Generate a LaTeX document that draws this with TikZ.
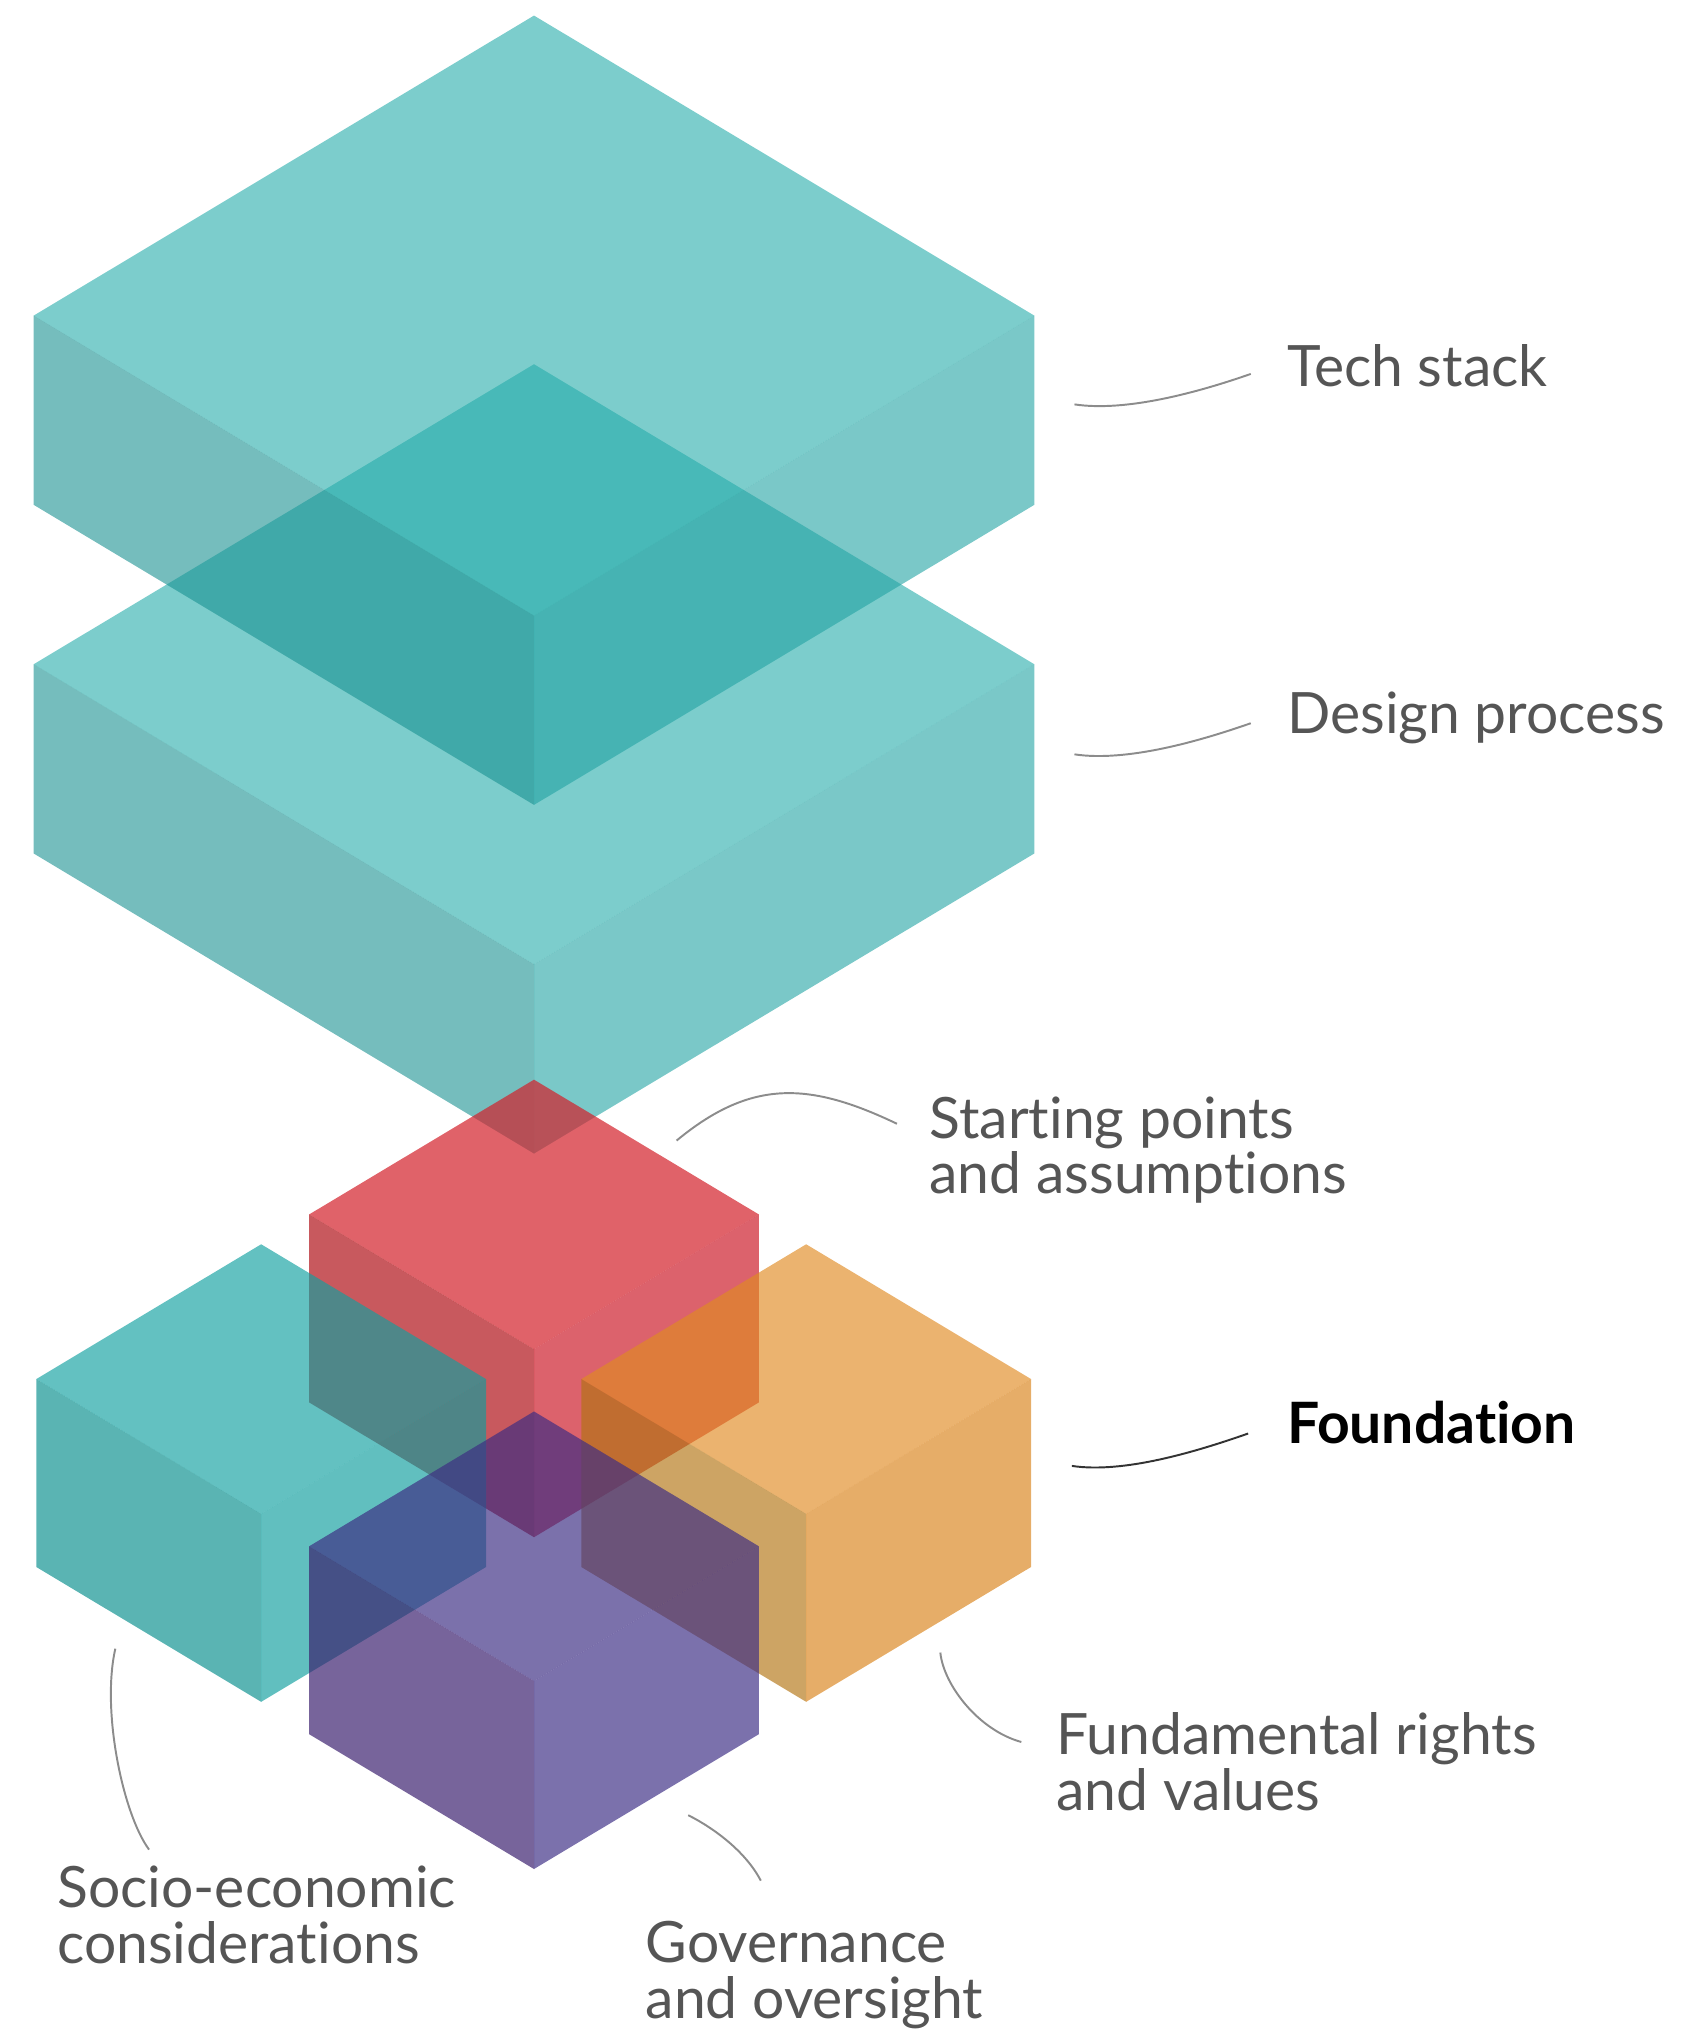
\documentclass[tikz,border=0pt]{standalone}
\usepackage{fontspec}
\setmainfont{Lato}[Ligatures=NoCommon]

\definecolor{slabT}{RGB}{37,172,170}
\definecolor{slabL}{RGB}{25,145,145}
\definecolor{slabR}{RGB}{33,163,163}
\definecolor{redT}{RGB}{211,32,42}
\definecolor{redL}{RGB}{176,19,25}
\definecolor{redR}{RGB}{205,31,45}
\definecolor{tealT}{RGB}{15,160,160}
\definecolor{tealL}{RGB}{1,140,139}
\definecolor{tealR}{RGB}{13,157,157}
\definecolor{orangeT}{RGB}{224,138,34}
\definecolor{orangeL}{RGB}{178,115,17}
\definecolor{orangeR}{RGB}{217,129,23}
\definecolor{purpleT}{RGB}{61,45,131}
\definecolor{purpleL}{RGB}{55,27,108}
\definecolor{purpleR}{RGB}{61,45,133}
\definecolor{labelgrey}{RGB}{85,85,85}
\definecolor{leadgrey}{RGB}{140,140,140}

\begin{document}
\begin{tikzpicture}
    [x=1pt,y=-1pt,
     lbl/.style={inner sep=0pt, anchor=base west, align=left, text=labelgrey, font=\fontsize{44}{43}\selectfont},
     lead/.style={draw=leadgrey, line width=1.5pt}]
  \useasboundingbox (0,0) rectangle (1300,1567);

  % blocks: top corner x/y, half width, half height, depth, colour, opacity
  \foreach \x/\y/\a/\b/\h/\c/\o in {412/281/386/231.5/146/slab/0.6, 412/12/386/231.5/146/slab/0.6,
      412/833/173.5/104/145/red/0.7, 201.5/960/173.5/104/145/teal/0.65,
      622/960/173.5/104/145/orange/0.65, 412/1089/173.5/104/145/purple/0.68}
  {
    \fill[fill=\c T, fill opacity=\o] (\x,\y) -- ({\x+\a},{\y+\b}) -- (\x,{\y+2*\b}) -- ({\x-\a},{\y+\b}) -- cycle;
    \fill[fill=\c L, fill opacity=\o] ({\x-\a},{\y+\b}) -- (\x,{\y+2*\b}) -- (\x,{\y+2*\b+\h}) -- ({\x-\a},{\y+\b+\h}) -- cycle;
    \fill[fill=\c R, fill opacity=\o] (\x,{\y+2*\b}) -- ({\x+\a},{\y+\b}) -- ({\x+\a},{\y+\b+\h}) -- (\x,{\y+2*\b+\h}) -- cycle;
  }

  % labels (two-line ones sit on their last baseline)
  \node[lbl] (ts) at (993,298) {Tech stack};
  \node[lbl] (ds) at (993,566) {Design process};
  \node[lbl] (sp) at (717,921) {Starting points\\and assumptions};
  \node[lbl, text=black, font=\fontsize{44}{43}\selectfont\bfseries] (fd) at (993,1114) {Foundation};
  \node[lbl] (fr) at (815,1397) {Fundamental rights\\and values};
  \node[lbl] (se) at (44,1515) {Socio-economic\\considerations};
  \node[lbl] (go) at (498,1557) {Governance\\and oversight};

  \coordinate (tsA) at (829,312);
  \coordinate (dsA) at (829,582);
  \coordinate (spA) at (522,880);
  \coordinate (fdA) at (827,1131);
  \coordinate (frA) at (725.5,1275);
  \coordinate (goA) at (531,1400.5);
  \coordinate (seA) at (89,1272);

  \draw[lead] (tsA) .. controls +(40,6) and +(-40,14) .. ([xshift=-28pt,yshift=9.5pt]ts.base west);
  \draw[lead] (dsA) .. controls +(40,6) and +(-40,14) .. ([xshift=-28pt,yshift=8pt]ds.base west);
  \draw[lead] (spA) .. controls +(58,-48) and +(-67,-32) .. ([xshift=-25pt,yshift=54pt]sp.base west);
  \draw[lead, draw=black!80] (fdA) .. controls +(40,6) and +(-40,14) .. ([xshift=-30pt,yshift=8pt]fd.base west);
  \draw[lead] (frA) .. controls +(2.5,25) and +(-33,-9) .. ([xshift=-27pt,yshift=53pt]fr.base west);
  \draw[lead] (goA) .. controls +(19,9.5) and +(-12,-23) .. ([xshift=89pt,yshift=106pt]go.base west);
  \draw[lead] (seA) .. controls +(-11,48) and +(-20,-27) .. ([xshift=71pt,yshift=88pt]se.base west);
\end{tikzpicture}
\end{document}
